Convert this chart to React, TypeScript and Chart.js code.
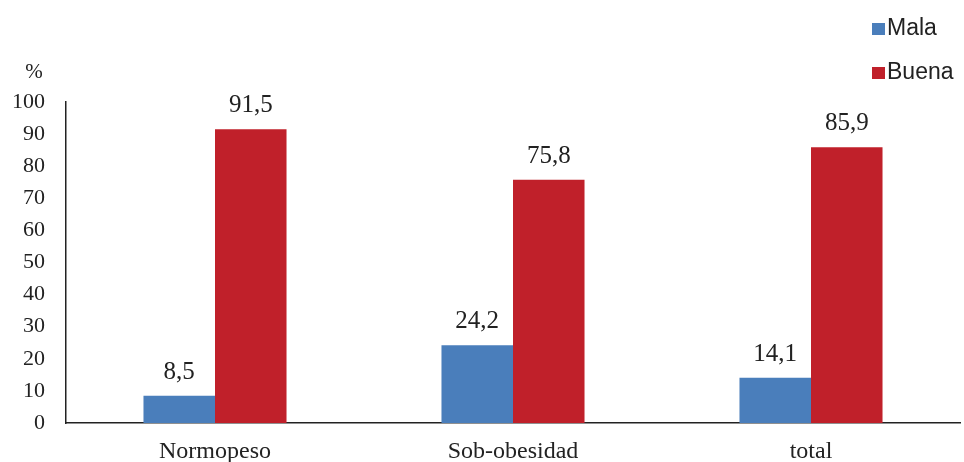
import React, { useEffect, useRef } from "react";
import { Chart, registerables } from "chart.js";

Chart.register(...registerables);

const categories = ["Normopeso", "Sob-obesidad", "total"];
const malaValues = [8.5, 24.2, 14.1];
const buenaValues = [91.5, 75.8, 85.9];
const seriesNames = ["Mala", "Buena"];
const seriesColors = ["#4a7ebb", "#c0202a"];
const yTicks = [0, 10, 20, 30, 40, 50, 60, 70, 80, 90, 100];
const yUnit = "%";

const SERIF = '"Liberation Serif", "Times New Roman", serif';

const overlayPlugin = {
  id: "overlay",
  afterDatasetsDraw(chart: any) {
    const ctx = chart.ctx;
    ctx.save();
    ctx.font = "25px " + SERIF;
    ctx.fillStyle = "#222";
    ctx.textAlign = "center";
    ctx.textBaseline = "alphabetic";
    chart.data.datasets.forEach((ds: any, di: number) => {
      const meta = chart.getDatasetMeta(di);
      meta.data.forEach((bar: any, i: number) => {
        const v = ds.data[i];
        const label = v.toFixed(1).replace(".", ",");
        ctx.fillText(label, bar.x, bar.y - 17);
      });
    });
    ctx.font = "21px " + SERIF;
    ctx.textAlign = "center";
    ctx.textBaseline = "middle";
    ctx.fillText(yUnit, 34, 72);
    ctx.font = '23px "Liberation Sans", Arial, sans-serif';
    ctx.textAlign = "left";
    ctx.textBaseline = "middle";
    seriesNames.forEach((name, i) => {
      const y = 29 + i * 44;
      ctx.fillStyle = seriesColors[i];
      ctx.fillRect(872, y - 6, 13, 12);
      ctx.fillStyle = "#222";
      ctx.fillText(name, 887, y);
    });
    ctx.restore();
  },
};

export default function App() {
  const ref = useRef<HTMLCanvasElement>(null);
  useEffect(() => {
    const chart = new Chart(ref.current!, {
      type: "bar",
      data: {
        labels: categories,
        datasets: [
          {
            label: seriesNames[0],
            data: malaValues,
            backgroundColor: seriesColors[0],
            categoryPercentage: 0.48,
            barPercentage: 1,
          },
          {
            label: seriesNames[1],
            data: buenaValues,
            backgroundColor: seriesColors[1],
            categoryPercentage: 0.48,
            barPercentage: 1,
          },
        ],
      },
      options: {
        animation: false,
        responsive: false,
        maintainAspectRatio: false,
        layout: { padding: { left: 0, right: 4, top: 102, bottom: 0 } },
        plugins: { legend: { display: false }, tooltip: { enabled: false } },
        scales: {
          x: {
            grid: { display: false, drawTicks: false },
            border: { display: true, color: "#222", width: 1.5 },
            ticks: {
              padding: 14,
              color: "#222",
              font: { family: SERIF, size: 24 },
            },
            afterFit(scale: any) {
              scale.height = 39;
            },
          },
          y: {
            min: 0,
            max: 100,
            afterBuildTicks(scale: any) {
              scale.ticks = yTicks.map((v) => ({ value: v }));
            },
            grid: { display: false, drawTicks: false },
            border: { display: true, color: "#222", width: 1.5 },
            ticks: {
              padding: 21,
              color: "#222",
              font: { family: SERIF, size: 22 },
            },
            afterFit(scale: any) {
              scale.width = 66;
            },
          },
        },
      },
      plugins: [overlayPlugin],
    });
    return () => chart.destroy();
  }, []);
  return (
    <div style={{ position: "fixed", left: 0, top: 0, width: 964, height: 462, background: "#fff" }}>
      <canvas ref={ref} width={964} height={462} style={{ width: 964, height: 462 }} />
    </div>
  );
}
